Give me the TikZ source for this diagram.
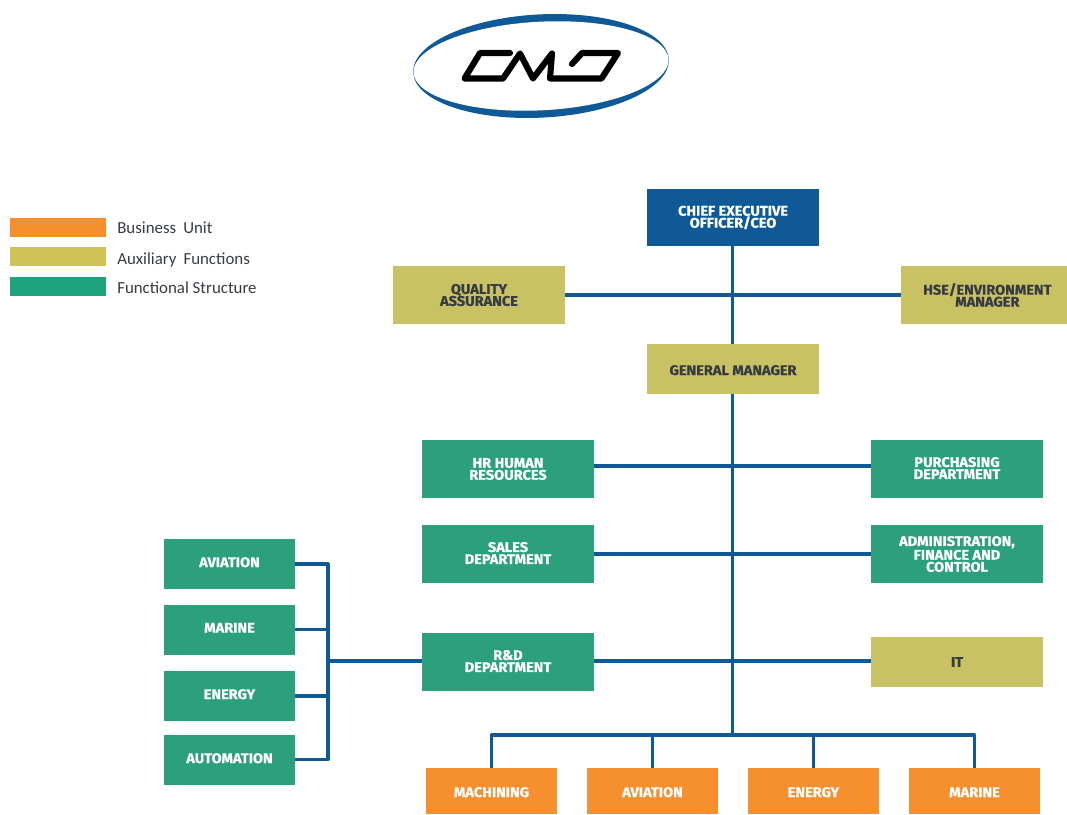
\documentclass[tikz,border=0pt]{standalone}
\usepackage{fontspec}
\setmainfont{Fira Sans}[BoldFeatures={FakeStretch=1.04,FakeBold=0.6}]
\newfontfamily\legendfont{Carlito}
\definecolor{cmdblue}{HTML}{0F5A96}
\definecolor{cmdgreen}{HTML}{2C9F7C}
\definecolor{cmdolive}{HTML}{C9C265}
\definecolor{cmdorange}{HTML}{F68F2E}
\definecolor{leggreen}{HTML}{1FA37C}
\definecolor{legolive}{HTML}{CFC355}
\definecolor{darktext}{HTML}{373C42}
\newcommand{\liftline}{\rule[-1.5pt]{0pt}{0pt}}
\tikzset{
  box/.style={inner sep=0pt,align=center,font=\fontsize{10.5pt}{9pt}\selectfont\bfseries,text=white},
  wide/.style={box,minimum width=129pt},
  narrow/.style={box,minimum width=98.25pt},
  tall/.style={minimum height=43.5pt},
  short/.style={minimum height=37.5pt},
  greenbox/.style={fill=cmdgreen},
  olivebox/.style={fill=cmdolive,text=darktext},
  orangebox/.style={fill=cmdorange},
  bluebox/.style={fill=cmdblue},
  textup/.style={text height=7.2pt,text depth=2.6pt},
  textdown/.style={text height=9pt,text depth=0pt},
  link/.style={draw=cmdblue,line width=2.3pt},
  legbar/.style={inner sep=0pt,minimum width=72pt,minimum height=14.25pt},
  legtext/.style={inner sep=0pt,anchor=west,text=darktext,font=\legendfont\fontsize{12.65pt}{14pt}\selectfont},
}
\begin{document}
\begin{tikzpicture}[x=0.75pt,y=-0.75pt]
\useasboundingbox (0,0) rectangle (1067,814);
% logo
\fill[cmdblue,rotate around={3:(541,66)}] (541,66) ellipse [x radius=128,y radius=51.6];
\fill[white,rotate around={3:(541,66)}] (541,66) ellipse [x radius=127.7,y radius=44.3];
\draw[black,line width=4.6pt,line join=round,line cap=round]
  (510,53) -- (480,53) -- (464.5,78.5) -- (503,78.5) -- (520,53.5) -- (533,78.5) -- (552,53.5) -- (550,78.5)
  -- (601.5,78.5) -- (618,53) -- (582,53) -- (572,64);
% legend
\node[legbar,fill=cmdorange] (lb1) at (58,227.5) {};
\node[legbar,fill=legolive] (lb2) at (58,256.5) {};
\node[legbar,fill=leggreen] (lb3) at (58,286.5) {};
\node[legtext] (lt1) at (117,227.5) {Business\hspace{0.42em}Unit};
\node[legtext] (lt2) at (117,260) {Auxiliary\hspace{0.42em}Functions};
\node[legtext] (lt3) at (117,287.5) {Functional Structure};
% nodes
\node[wide,bluebox,minimum height=42.75pt] (ceo) at (733,217.5) {CHIEF EXECUTIVE\\OFFICER/CEO};
\node[wide,tall,olivebox] (qa) at (479,295) {QUALITY\\ASSURANCE};
\node[box,minimum width=124.5pt,tall,olivebox] (hse) at (984,295) {\hspace*{5pt}HSE/ENVIRONMENT\\\hspace*{5pt}MANAGER};
\node[wide,short,olivebox,textdown] (gm) at (733,369) {GENERAL MANAGER};
\node[wide,tall,greenbox] (hr) at (508,469) {HR HUMAN\\RESOURCES};
\node[wide,tall,greenbox] (pur) at (957,469) {PURCHASING\\DEPARTMENT\liftline};
\node[wide,tall,greenbox] (sales) at (508,554) {SALES\\DEPARTMENT\liftline};
\node[wide,tall,greenbox] (adm) at (957,554) {ADMINISTRATION,\\FINANCE AND\\CONTROL};
\node[wide,tall,greenbox] (rd) at (508,662) {R\&D\\DEPARTMENT\liftline};
\node[wide,short,olivebox] (it) at (957,662) {IT};
\node[narrow,short,greenbox,textup] (lav) at (229.5,564) {AVIATION};
\node[narrow,short,greenbox,textup] (lma) at (229.5,629.5) {MARINE};
\node[narrow,short,greenbox,textup] (len) at (229.5,696) {ENERGY};
\node[narrow,short,greenbox,textup] (lau) at (229.5,760) {AUTOMATION};
\node[narrow,minimum height=34.5pt,orangebox,textdown] (bm) at (491.5,791) {MACHINING};
\node[narrow,minimum height=34.5pt,orangebox,textdown] (ba) at (652.5,791) {AVIATION};
\node[narrow,minimum height=34.5pt,orangebox,textdown] (be) at (813.5,791) {ENERGY};
\node[narrow,minimum height=34.5pt,orangebox,textdown] (bs) at (974.5,791) {MARINE};
% helper points
\coordinate (trunkend) at (732.5,735);
\coordinate (spinetop) at (328,564);
\coordinate (spinebot) at (328,759.5);
\coordinate (spinemid) at (328,661);
\coordinate (hrline) at (732.5,466);
\coordinate (rdline) at (732.5,661);
% connectors
\draw[link] (ceo.south -| trunkend) -- (gm.north -| trunkend);
\draw[link] (gm.south -| trunkend) -- (trunkend);
\draw[link] (qa.east) -- (hse.west);
\draw[link] (hr.east |- hrline) -- (pur.west |- hrline);
\draw[link] (sales.east) -- (adm.west);
\draw[link] (rd.east |- rdline) -- (it.west |- rdline);
\draw[link,line join=round] (bm.north) -- (bm.north |- trunkend) -- (bs.north |- trunkend) -- (bs.north);
\draw[link] (ba.north) -- (ba.north |- trunkend);
\draw[link] (be.north) -- (be.north |- trunkend);
\draw[link,line join=round] (lav.east) -- (spinetop) -- (spinebot) -- (lau.east |- spinebot);
\draw[link] (lma.east) -- (lma.east -| spinetop);
\draw[link] (len.east) -- (len.east -| spinetop);
\draw[link] (spinemid) -- (rd.west |- spinemid);
\end{tikzpicture}
\end{document}
